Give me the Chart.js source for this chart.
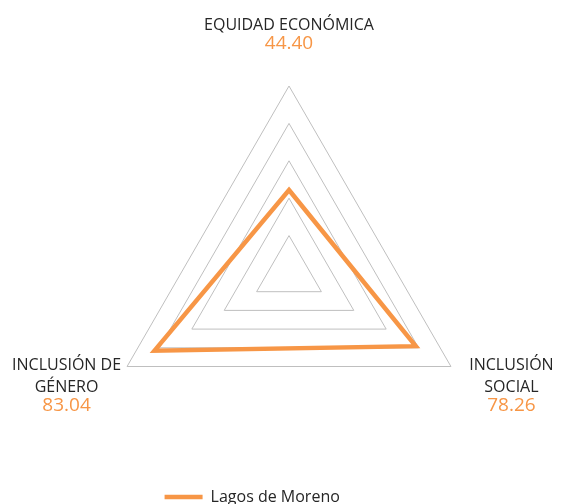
<!DOCTYPE html>
<html>
<head>
<meta charset="utf-8">
<script src="https://cdn.jsdelivr.net/npm/chart.js@4/dist/chart.umd.min.js"></script>
<style>
  html, body { margin: 0; padding: 0; background: #ffffff; }
  #wrap { width: 564px; height: 504px; }
</style>
</head>
<body>
<div id="wrap"><canvas id="c" width="564" height="504"></canvas></div>
<script>
// ---- data ----
const categories = [['EQUIDAD ECONÓMICA'], ['INCLUSIÓN', 'SOCIAL'], ['INCLUSIÓN DE', 'GÉNERO']];
const seriesName = 'Lagos de Moreno';
const seriesValues = [44.40, 78.26, 83.04];
const scaleMin = 0;
const scaleMax = 100;
const scaleStep = 20;

// ---- styles ----
const ORANGE = '#F79646';
const TEXT = '#262626';
const GRID = '#BFBFBF';
const FONT = '"Open Sans", "Noto Sans", sans-serif';

const axisValueLabels = {
  id: 'axisValueLabels',
  afterDraw(chart) {
    const scale = chart.scales.r;
    const ctx = chart.ctx;
    const lineGap = 21.7;
    const valueGap = 19;
    ctx.save();
    ctx.textAlign = 'center';
    ctx.textBaseline = 'alphabetic';
    chart.data.labels.forEach((lines, i) => {
      const p = scale.getPointPosition(i, scale.drawingArea);
      const dx = p.x - scale.xCenter;
      let x, y0;
      if (Math.abs(dx) < 1) {
        x = p.x;
        y0 = p.y - 37.5 - valueGap - (lines.length - 1) * lineGap;
      } else {
        x = p.x + Math.sign(dx) * 60.5;
        y0 = p.y + 3.5;
      }
      ctx.font = '16px ' + FONT;
      ctx.fillStyle = TEXT;
      lines.forEach((t, k) => ctx.fillText(t, x, y0 + k * lineGap));
      ctx.font = '19px ' + FONT;
      ctx.fillStyle = ORANGE;
      const v = chart.data.datasets[0].data[i];
      ctx.fillText(v.toFixed(2), x, y0 + (lines.length - 1) * lineGap + valueGap);
    });
    ctx.restore();
  }
};

new Chart(document.getElementById('c'), {
  type: 'radar',
  data: {
    labels: categories,
    datasets: [{
      label: seriesName,
      data: seriesValues,
      fill: false,
      borderColor: ORANGE,
      backgroundColor: ORANGE,
      borderWidth: 4.5,
      borderJoinStyle: 'miter',
      tension: 0,
      pointRadius: 0,
      pointHoverRadius: 0,
      pointBorderWidth: 4.5,
      pointBorderColor: ORANGE,
      pointBackgroundColor: ORANGE
    }]
  },
  options: {
    responsive: false,
    animation: false,
    events: [],
    layout: { padding: { left: 0, right: 59.6, top: 86, bottom: -11 } },
    scales: {
      r: {
        min: scaleMin,
        max: scaleMax,
        ticks: { display: false, stepSize: scaleStep },
        grid: { color: GRID, lineWidth: 1 },
        angleLines: { display: false },
        pointLabels: { display: false }
      }
    },
    plugins: {
      legend: {
        position: 'bottom',
        labels: {
          usePointStyle: true,
          pointStyle: 'line',
          pointStyleWidth: 38,
          padding: 29,
          color: TEXT,
          font: { family: FONT, size: 16 }
        }
      },
      title: {
        display: true,
        position: 'left',
        text: '',
        padding: 0,
        color: 'rgba(0,0,0,0)',
        font: { size: 74.6, lineHeight: 1 }
      },
      tooltip: { enabled: false }
    }
  },
  plugins: [axisValueLabels]
});
</script>
</body>
</html>
